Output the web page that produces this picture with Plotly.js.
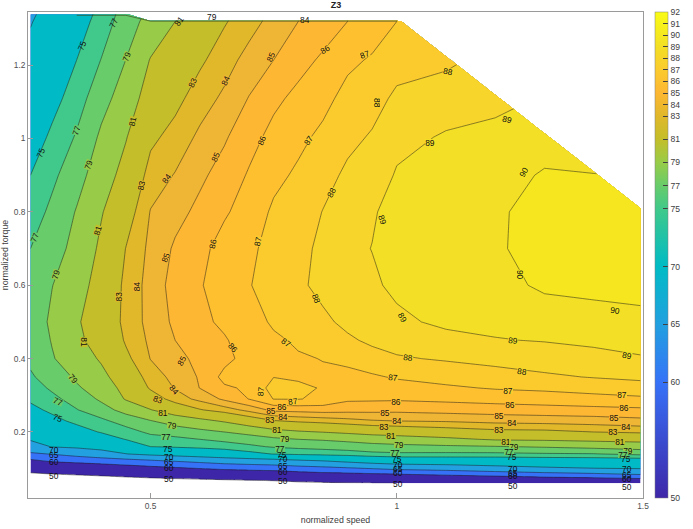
<!DOCTYPE html>
<html>
<head>
<meta charset="utf-8">
<script src="https://cdn.plot.ly/plotly-3.0.1.min.js"></script>
<style>html,body{margin:0;padding:0;background:#fff}#chart{width:693px;height:529px}</style>
</head>
<body>
<div id="chart"></div>
<script>
const N = null;
const speed = [0.2563,0.3,0.35,0.4,0.45,0.5,0.55,0.6,0.65,0.7,0.75,0.8,0.85,0.9,0.95,1,1.1,1.2,1.3,1.4,1.495];
const torque = [0.06,0.08,0.10,0.12,0.14,0.16,0.18,0.20,0.23,0.26,0.29,0.32,0.35,0.40,0.45,0.50,0.60,0.70,0.80,0.90,1.004,1.109,1.214,1.319,1.339];
const efficiency = [
[42,42.5,43,43.5,44,44.8,45.5,46,46.6,47,47.5,48.5,49,49.5,49.8,50,50.8,51.8,52.3,52.5,52.9],
[47.7,48.4,49.1,49.9,50.9,51.8,52.5,53,53.5,54,54.5,56,56.9,57.1,57.6,58,59.1,60.1,61.4,62.4,63.75],
[53,54.4,55.4,56.3,57.2,58.2,59,59.9,60.9,61.6,62,62.9,63.5,64.2,65,66,66.8,68.2,69.2,69.8,70],
[58.5,60.4,61.2,62,62.9,63.9,65,66,67,67.5,68,68.9,69.6,70.7,71.8,72.5,72.7,72.8,73,73.1,73.2],
[64.3,65.2,66.8,68.3,69.9,71,71.8,72.5,73.2,74.2,75.1,75.5,75.8,76.07,76.5,76.67,76.6,76.6,76.8,76.9,77.5],
[68,70.2,70.7,71.4,72.6,75,75.3,75.6,76,76.6,77.2,77.5,77.7,77.95,78.3,78.5,78.7,78.9,79.2,79.6,80],
[70.4,71.3,72.2,73.4,75.1,76.2,76.5,77,77.5,78,78.6,79,79.2,79.53,79.9,80.1,80.6,81.2,81.3,81.5,81.6],
[71.4,72.5,73.8,75.2,76.2,77.4,77.9,78.5,79,79.65,80.4,80.8,81.05,81.37,81.7,81.9,82.3,82.65,82.7,83,83.2],
[72.9,74.2,75.6,76.57,77.85,78.9,79.9,80.5,81.2,82.1,82.9,83.2,83.4,83.65,83.9,84,84.1,84.3,84.4,84.5,84.7],
[74.3,75.5,76.9,78.2,79.7,80.93,82,82.9,83.5,84.3,85.26,85.35,85.46,85.35,85.3,85.26,85.39,85.5,85.6,85.7,85.8],
[75.4,76.5,77.8,79.33,81.15,82.27,83.5,84.27,85.2,86.03,87.03,87.05,86.77,86.18,86.16,86.13,86.24,86.38,86.5,86.65,86.8],
[76.1,77.3,78.75,79.93,81.6,83.15,84.07,85.02,85.85,86.15,87.4,87.15,86.95,86.46,86.5,86.6,86.85,87.08,87.2,87.4,87.6],
[76.75,77.9,79.3,80.53,82,83.5,84.3,85.1,86.3,86.25,86.98,86.9,86.9,86.73,86.87,87.1,87.36,87.6,87.85,88.05,88.2],
[77.4,78.85,80.1,81.2,82.7,84.03,84.65,85.3,85.7,86.4,86.7,86.93,87.02,87.23,87.6,87.9,88.1,88.3,88.48,88.65,88.9],
[77.8,79.1,80.7,81.6,83.15,84.2,85,85.5,85.9,86.5,86.88,87.1,87.4,87.83,88.2,88.37,88.7,88.95,89.05,89.22,89.4],
[78,79.3,80.8,82,83.3,84.35,85.2,85.75,86.2,86.7,87.1,87.35,87.78,88.25,88.5,88.8,89.2,89.25,89.5,89.7,89.8],
[77.6,78.96,80.1,81.9,83.25,84.4,85.4,85.9,86.6,86.95,87.4,87.8,88.3,88.7,88.85,89.2,89.7,89.7,90.15,90.2,90.25],
[77,78.2,79.6,81.35,83.03,84.25,85.15,85.7,86.4,86.85,87.25,87.6,88.3,88.75,89.02,89.4,89.85,89.9,90.3,90.3,90.4],
[76,77.45,79.13,80.88,82.36,84.05,84.66,85.25,85.87,86.45,87.15,87.4,88.03,88.5,88.9,89.35,89.8,89.88,90.3,90.25,90.3],
[75,76.56,78.26,80.1,81.64,83.45,84.06,84.8,85.4,86.1,86.76,87.15,87.62,88.2,88.4,89.1,89.5,89.6,90.1,90.02,N],
[73.7,75.44,77.2,79.35,80.9,82.74,83.4,84.2,84.88,85.64,86.3,86.78,87.2,87.73,88.1,88.7,89.1,89.2,89.55,N,N],
[72.4,74.2,76.1,78.3,79.96,81.9,82.67,83.53,84.2,85.05,85.78,86.26,86.73,87.3,87.62,88.2,88.5,88.8,N,N,N],
[71.1,72.9,75,77.06,79.02,81.1,81.8,82.8,83.57,84.36,85,85.66,86.15,86.8,87.1,87.6,87.8,N,N,N,N],
[69.8,71.6,73.9,75.9,78.1,79.7,81,81.9,82.9,83.6,84.35,85,85.5,86,86.5,87,N,N,N,N,N],
[69.5,71.3,73.6,75.7,77.9,N,N,N,N,N,N,N,N,N,N,N,N,N,N,N,N]
];
const levels = [50,60,65,70,75,77,79,81,83,84,85,86,87,88,89,90];
const bandColors = ['#3E26A8','#3672F8','#22A0E0','#00BBC5','#40C98A','#68CC6A','#98CC48','#C4BE2A','#E0B82A','#EFB534','#FDB733','#FFC030','#FBCB2E','#F8D52A','#F3DF25','#F5E61F'];
const colorbarTicks = [50,60,65,70,75,77,79,81,83,84,85,86,87,88,89,90,91,92];
const colorbarValues = [50,60,65,70,75,77,79,81,83,85,87,89,92];
const colorbarColors = ['#3E26A8','#3672F8','#22A0E0','#00BBC5','#40C98A','#68CC6A','#98CC48','#C4BE2A','#E0B82A','#FDB733','#FBCB2E','#F3DF25','#F9FB15'];
const topEdgeSpeed = [0.35,0.45,0.5,1.0];
const topEdgeTorque = [1.336,1.336,1.32,1.32];

const labelText = [75,75,77,77,77,79,79,79,79,81,81,81,81,83,83,83,84,84,84,84,85,85,85,85,86,86,86,86,87,87,87,87,87,87,88,88,88,88,88,88,89,89,89,89,89,89,90,90,90,
70,65,60,50,75,77,79,
83,84,81,79,77,75,70,65,60,50,
85,83,86,84,81,79,77,75,70,65,60,50,
87,86,85,84,83,81,79,77,75,70,65,60,50,
87,86,85,84,83,81,79,77,75,70,65,60,50,
87,86,85,84,83,81,79,77,75,70,65,60,50];
const labelSpeed = [.277,.36,.265,.35,.425,.452,.375,.308,.625,.558,.464,.393,.364,.586,.482,.436,.653,.533,.472,.814,.745,.633,.531,.564,.854,.726,.627,.667,.935,.82,.718,.775,.724,.789,1.104,.958,.868,.836,1.023,1.255,1.224,1.068,.97,1.011,1.237,1.468,1.259,1.25,1.444,
.305,.305,.305,.305,.312,.312,.342,
.515,.547,.525,.543,.531,.535,.537,.537,.537,.537,
.745,.742,.767,.769,.757,.773,.763,.767,.769,.769,.769,.769,
.992,.999,.976,1.001,.974,.988,1.005,.996,1.001,1.003,1.003,1.003,1.003,
1.226,1.23,1.208,1.234,1.208,1.222,1.239,1.228,1.234,1.237,1.237,1.237,1.237,
1.458,1.462,1.442,1.466,1.44,1.454,1.47,1.46,1.466,1.468,1.468,1.468,1.468];
const labelTorque = [.961,1.253,.73,1.021,1.315,1.223,.928,.629,1.332,1.321,1.046,.749,.446,1.152,.871,.569,1.157,.89,.596,1.323,1.223,.95,.675,.394,1.244,.994,.713,.43,1.228,.996,.719,.443,.31,.283,1.184,1.097,.852,.563,.402,.364,1.051,.988,.778,.511,.449,.408,.909,.629,.53,
.152,.136,.117,.081,.239,.283,.345,
.288,.315,.253,.217,.187,.154,.133,.117,.103,.073,
.258,.233,.269,.242,.206,.182,.154,.138,.125,.108,.092,.065,
.348,.283,.253,.231,.214,.19,.165,.144,.127,.111,.098,.087,.059,
.313,.274,.244,.226,.206,.173,.16,.147,.133,.1,.089,.079,.054,
.302,.266,.239,.214,.201,.173,.149,.138,.127,.098,.084,.073,.051];
const labelAngle = [-68,-68,-68,-72,-65,-70,-70,-75,0,-55,-78,-72,90,-65,-78,-90,-65,-55,-90,0,-65,-65,-70,-60,-30,-68,-78,50,-20,-55,-78,35,-85,-8,10,90,-60,70,5,8,15,0,70,60,5,10,-60,90,7,
0,0,0,0,20,25,50,
20,50,0,5,0,0,0,0,0,0,
0,0,0,0,0,0,0,0,0,0,0,0,
5,0,0,0,0,0,0,0,0,0,0,0,0,
0,0,0,0,0,0,0,0,0,0,0,0,0,
0,0,0,0,0,0,0,0,0,0,0,0,0];

const FONT = '"Liberation Sans", Arial, sans-serif';

const fills = levels.map((lev, i) => ({
  type: 'contour', x: speed, y: torque, z: efficiency,
  connectgaps: false, showscale: false, hoverinfo: 'skip',
  contours: {type: 'constraint', operation: '<=', value: lev},
  fillcolor: bandColors[i],
  line: {color: '#1c1c1c', width: 0.5, smoothing: 0}
}));

const edge = {
  type: 'scatter', mode: 'lines', x: topEdgeSpeed, y: topEdgeTorque,
  line: {color: '#3a4a20', width: 0.7}, hoverinfo: 'skip', showlegend: false
};

const bar = {
  type: 'scatter', mode: 'markers', x: [null], y: [null], hoverinfo: 'skip', showlegend: false,
  marker: {
    color: [50], cmin: 50, cmax: 92, showscale: true,
    colorscale: colorbarValues.map((v, i) => [(v - 50) / 42, colorbarColors[i]]),
    colorbar: {
      x: 0.95, xanchor: 'left', y: 0.5, yanchor: 'middle', len: 1, lenmode: 'fraction',
      thickness: 13, thicknessmode: 'pixels', xpad: 0, ypad: 0,
      outlinewidth: 0.5, outlinecolor: '#808080',
      tickmode: 'array', tickvals: colorbarTicks, ticktext: colorbarTicks.map(String),
      ticks: 'inside', ticklen: 5, tickwidth: 0.6, tickcolor: '#404040',
      tickfont: {family: FONT, size: 8.6, color: '#404040'}
    }
  }
};

const annotations = labelText.map((t, i) => {
  const a = {
    x: labelSpeed[i], y: labelTorque[i], xref: 'x', yref: 'y',
    text: String(t), showarrow: false, textangle: labelAngle[i],
    font: {family: FONT, size: 8.4, color: '#111'},
    borderpad: 0, borderwidth: 0, xanchor: 'center', yanchor: 'middle'
  };
  if (t >= 77 && labelTorque[i] < 1.3) { a.bgcolor = bandColors[levels.indexOf(t)]; a.height = 7; a.width = 10; }
  return a;
});

const layout = {
  width: 693, height: 529,
  margin: {l: 28.3, r: 5, t: 12, b: 30.7, pad: 0},
  paper_bgcolor: '#fff', plot_bgcolor: '#fff',
  showlegend: false,
  title: {text: '<b>Z3</b>', font: {family: FONT, size: 9, color: '#222'}, x: 0.485, xanchor: 'center', y: 0.9905, yanchor: 'middle'},
  xaxis: {
    domain: [0, 0.9318],
    range: [0.2512, 1.5], tickmode: 'array', tickvals: [0.5, 1, 1.5], ticktext: ['0.5', '1', '1.5'],
    showgrid: false, zeroline: false, showline: true, mirror: true, linecolor: '#9a9a9a', linewidth: 0.8,
    ticks: 'inside', ticklen: 5, tickwidth: 0.6, tickcolor: '#9a9a9a',
    tickfont: {family: FONT, size: 8.4, color: '#505050'},
    title: {text: 'normalized speed', font: {family: FONT, size: 8.8, color: '#404040'}, standoff: 6}
  },
  yaxis: {
    range: [0.02, 1.345], tickmode: 'array', tickvals: [0.2, 0.4, 0.6, 0.8, 1, 1.2], ticktext: ['0.2', '0.4', '0.6', '0.8', '1', '1.2'],
    showgrid: false, zeroline: false, showline: true, mirror: true, linecolor: '#9a9a9a', linewidth: 0.8,
    ticks: 'inside', ticklen: 5, tickwidth: 0.6, tickcolor: '#9a9a9a',
    tickfont: {family: FONT, size: 8.4, color: '#505050'},
    title: {text: 'normalized torque', font: {family: FONT, size: 8.8, color: '#404040'}, standoff: 4}
  },
  annotations: annotations
};

Plotly.newPlot('chart', fills.concat([edge, bar]), layout, {displayModeBar: false, responsive: false});
</script>
</body>
</html>
